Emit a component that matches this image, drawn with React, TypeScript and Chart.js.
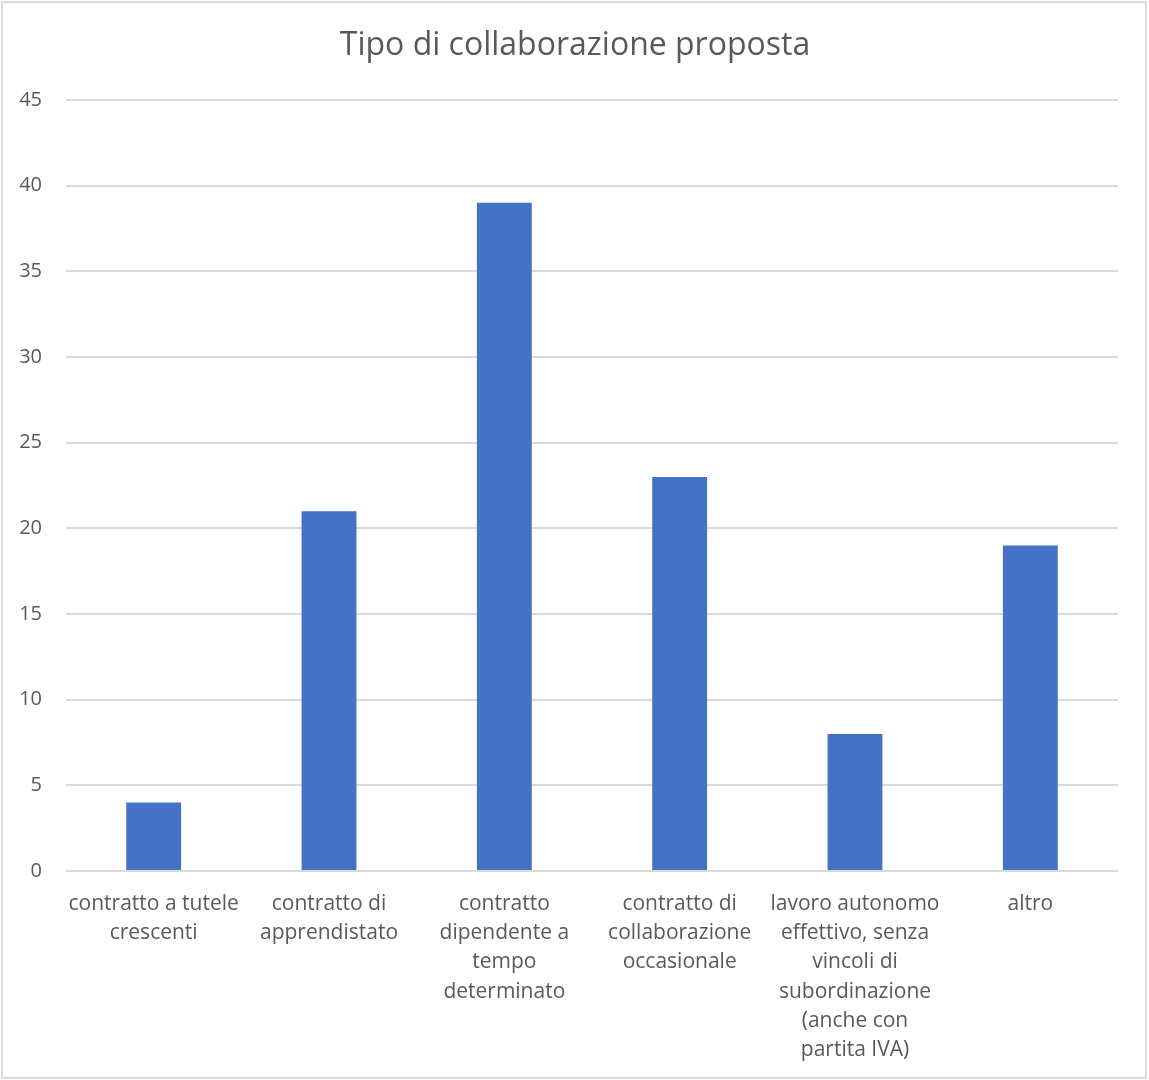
import React, { useEffect, useRef } from "react";
import { Chart, registerables } from "chart.js";

Chart.register(...registerables);

const TITLE = "Tipo di collaborazione proposta";
const categories: string[][] = [
  ["contratto a tutele", "crescenti"],
  ["contratto di", "apprendistato"],
  ["contratto", "dipendente a", "tempo", "determinato"],
  ["contratto di", "collaborazione", "occasionale"],
  ["lavoro autonomo", "effettivo, senza", "vincoli di", "subordinazione", "(anche con", "partita IVA)"],
  ["altro"],
];
const values: number[] = [4, 21, 39, 23, 8, 19];
const yMin = 0;
const yMax = 45;
const yStep = 5;

const FONT = "'Open Sans', Lato, sans-serif";
const TEXT = "#595959";

const titlePlugin = {
  id: "xlTitle",
  afterDraw(chart: any) {
    const ctx = chart.ctx;
    ctx.save();
    ctx.fillStyle = TEXT;
    ctx.font = `32px ${FONT}`;
    ctx.textAlign = "center";
    ctx.textBaseline = "middle";
    ctx.fillText(TITLE, 575, 46);
    ctx.restore();
  },
};

export default function App() {
  const ref = useRef<HTMLCanvasElement>(null);
  useEffect(() => {
    if (!ref.current) return;
    const chart = new Chart(ref.current, {
      type: "bar",
      data: {
        labels: categories,
        datasets: [
          {
            data: values,
            backgroundColor: "#4472C4",
            barPercentage: 0.313,
            categoryPercentage: 1,
          },
        ],
      },
      options: {
        animation: false,
        responsive: false,
        devicePixelRatio: 1,
        layout: { padding: { top: 100, right: 31, left: 0, bottom: 0 } },
        plugins: {
          legend: { display: false },
          title: { display: false },
          tooltip: { enabled: false },
        },
        scales: {
          x: {
            grid: { display: false, drawTicks: false },
            border: { display: false },
            ticks: {
              color: TEXT,
              font: { family: FONT, size: 21, lineHeight: 1.395 },
              padding: 18,
              autoSkip: false,
              maxRotation: 0,
              minRotation: 0,
            },
            afterFit(scale: any) {
              scale.height = 209;
            },
          },
          y: {
            min: yMin,
            max: yMax,
            grid: { color: "#d9d9d9", lineWidth: 2, drawTicks: false },
            border: { display: false },
            ticks: {
              stepSize: yStep,
              color: TEXT,
              font: { family: FONT, size: 20 },
              padding: 24,
            },
            afterFit(scale: any) {
              scale.width = 66;
            },
          },
        },
      },
      plugins: [titlePlugin],
    });
    return () => chart.destroy();
  }, []);
  return (
    <div style={{ position: "absolute", left: 0, top: 0, width: 1149, height: 1080, background: "#fff" }}>
      <canvas ref={ref} width={1149} height={1080} style={{ position: "absolute", left: 0, top: 0 }} />
      <div
        style={{
          position: "absolute",
          left: 1,
          top: 1,
          width: 1146,
          height: 1078,
          boxSizing: "border-box",
          border: "2px solid #d9d9d9",
          pointerEvents: "none",
        }}
      />
    </div>
  );
}
